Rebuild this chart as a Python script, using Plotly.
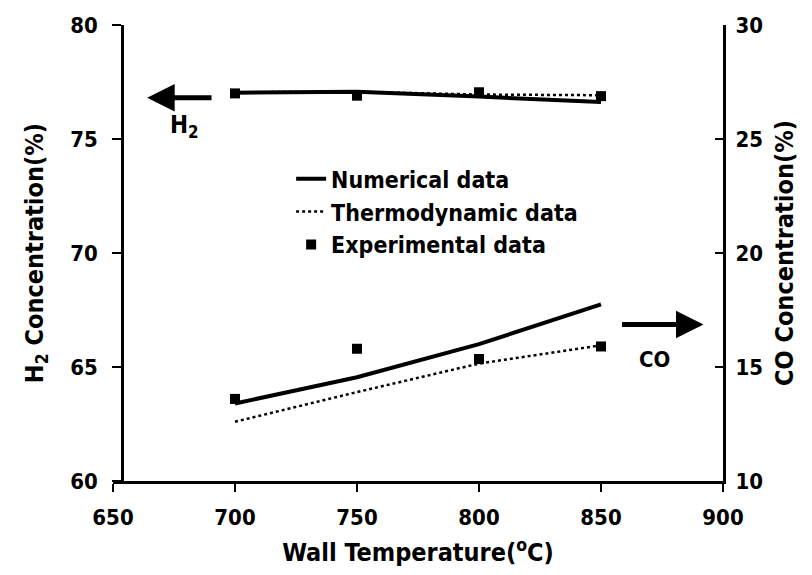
import plotly.graph_objects as go

temps = [700, 750, 800, 850]
h2_numerical = [77.03, 77.07, 76.86, 76.62]
h2_thermo = [77.05, 77.07, 76.95, 76.92]
h2_experimental = [77.0, 76.9, 77.05, 76.88]
co_numerical = [13.4, 14.55, 16.0, 17.75]
co_thermo = [12.6, 13.9, 15.15, 15.95]
co_experimental = [13.6, 15.8, 15.35, 15.9]

x_ticks = [650, 700, 750, 800, 850, 900]
h2_ticks = [60, 65, 70, 75, 80]
co_ticks = [10, 15, 20, 25, 30]

FONT = "DejaVu Sans Condensed, Liberation Sans Narrow, Arial"
BLACK = "#000000"

fig = go.Figure()

fig.add_trace(go.Scatter(x=temps, y=h2_numerical, mode="lines", name="Numerical data",
                         line=dict(color=BLACK, width=4), legendgroup="num"))
fig.add_trace(go.Scatter(x=temps, y=h2_thermo, mode="lines", name="Thermodynamic data",
                         line=dict(color=BLACK, width=2.5, dash="dot"), legendgroup="thermo"))
fig.add_trace(go.Scatter(x=temps, y=h2_experimental, mode="markers", name="Experimental data",
                         marker=dict(color=BLACK, symbol="square", size=10), legendgroup="exp"))

fig.add_trace(go.Scatter(x=temps, y=co_numerical, mode="lines", yaxis="y2", showlegend=False,
                         line=dict(color=BLACK, width=4), legendgroup="num"))
fig.add_trace(go.Scatter(x=temps, y=co_thermo, mode="lines", yaxis="y2", showlegend=False,
                         line=dict(color=BLACK, width=2.5, dash="dot"), legendgroup="thermo"))
fig.add_trace(go.Scatter(x=temps, y=co_experimental, mode="markers", yaxis="y2", showlegend=False,
                         marker=dict(color=BLACK, symbol="square", size=10), legendgroup="exp"))

tickfont = dict(family=FONT, size=22, color=BLACK, weight="bold")
titlefont = dict(family=FONT, size=25, color=BLACK, weight="bold")


def bold(vals):
    return ["<b>%s</b>" % v for v in vals]


fig.update_layout(
    width=812, height=575,
    margin=dict(l=113, r=89, t=25, b=92),
    plot_bgcolor="white", paper_bgcolor="white",
    font=dict(family=FONT, color=BLACK),
    showlegend=True,
    legend=dict(x=0.292, y=0.71, xanchor="left", yanchor="top",
                bgcolor="rgba(0,0,0,0)", borderwidth=0,
                font=dict(family=FONT, size=23, color=BLACK, weight="bold"),
                tracegroupgap=0),
    xaxis=dict(range=[650, 900], tickvals=x_ticks, ticktext=bold(x_ticks),
               showgrid=False, zeroline=False, showline=True, linecolor=BLACK, linewidth=3,
               ticks="outside", ticklen=8, tickwidth=2, tickcolor=BLACK, tickfont=tickfont,
               ticklabelstandoff=7,
               title=dict(text="<b>Wall Temperature(<sup>o</sup>C)</b>", font=titlefont, standoff=15)),
    yaxis=dict(range=[60, 80], tickvals=h2_ticks, ticktext=bold(h2_ticks),
               anchor="free", position=0.015,
               showgrid=False, zeroline=False, showline=True, linecolor=BLACK, linewidth=3,
               ticks="outside", ticklen=9, tickwidth=2, tickcolor=BLACK, tickfont=tickfont,
               ticklabelstandoff=10,
               title=dict(text="<b>H<sub>2</sub> Concentration(%)</b>", font=titlefont, standoff=18)),
    yaxis2=dict(range=[10, 30], tickvals=co_ticks, ticktext=bold(co_ticks),
                overlaying="y", side="right", anchor="x",
                showgrid=False, zeroline=False, showline=True, linecolor=BLACK, linewidth=3,
                ticks="inside", ticklen=8, tickwidth=2, tickcolor=BLACK, tickfont=tickfont,
                ticklabelstandoff=5,
                title=dict(text="<b>CO Concentration(%)</b>", font=titlefont, standoff=14)),
)

# H2 arrow pointing left
fig.add_annotation(x=664, y=76.81, ax=691, ay=76.81, xref="x", yref="y", axref="x", ayref="y",
                   showarrow=True, arrowhead=2, arrowsize=1.1, arrowwidth=5, arrowcolor=BLACK, text="")
fig.add_annotation(x=679.5, y=75.55, xref="x", yref="y", text="<b>H<sub>2</sub></b>", showarrow=False,
                   font=dict(family=FONT, size=24, color=BLACK, weight="bold"))

# CO arrow pointing right
fig.add_annotation(x=892, y=16.86, ax=858, ay=16.86, xref="x", yref="y2", axref="x", ayref="y2",
                   showarrow=True, arrowhead=2, arrowsize=1.1, arrowwidth=5, arrowcolor=BLACK, text="")
fig.add_annotation(x=872, y=15.35, xref="x", yref="y2", text="<b>CO</b>", showarrow=False,
                   font=dict(family=FONT, size=22, color=BLACK, weight="bold"))

fig.write_html("out.html")
